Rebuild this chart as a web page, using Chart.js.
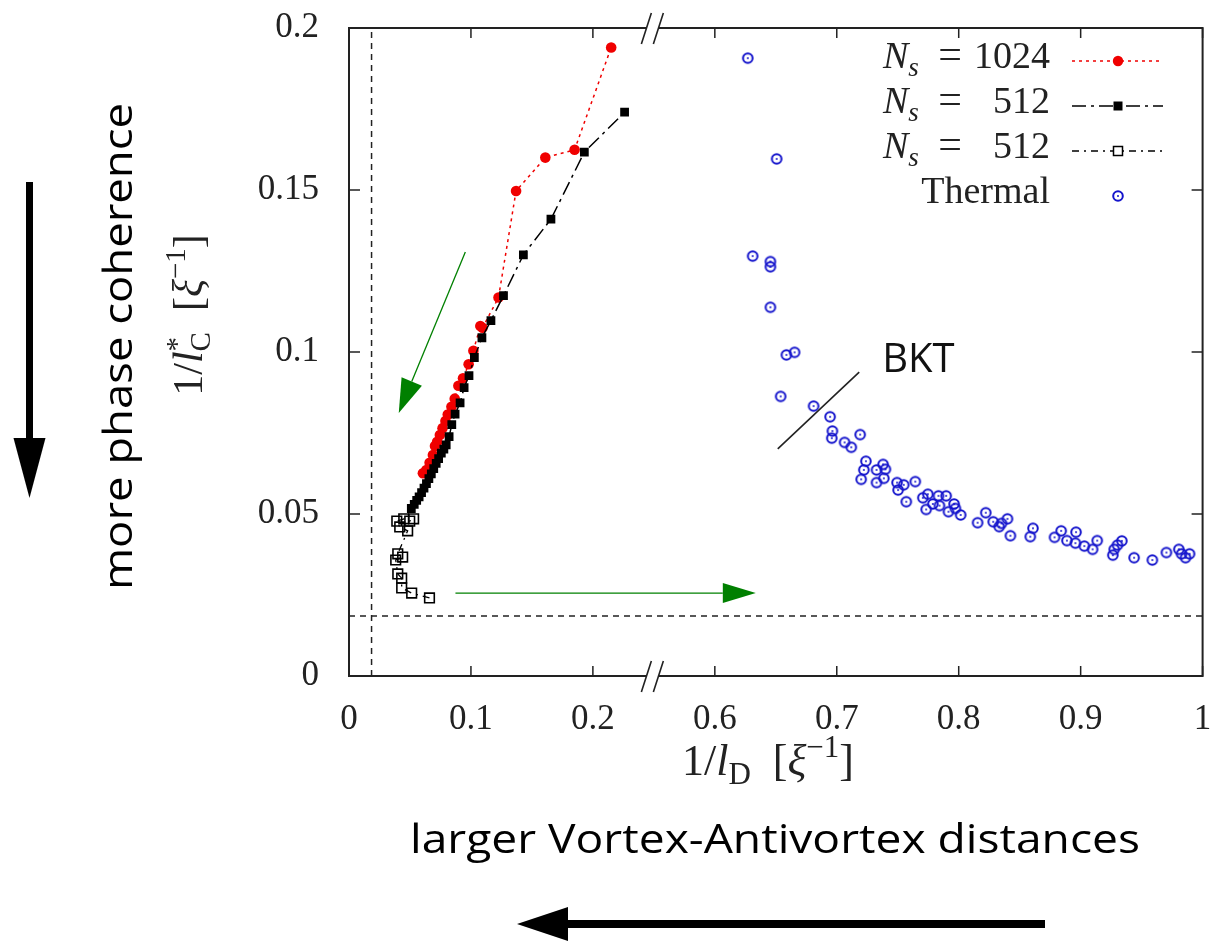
<!DOCTYPE html>
<html>
<head>
<meta charset="utf-8">
<script src="https://cdn.jsdelivr.net/npm/chart.js@4.4.1/dist/chart.umd.min.js"></script>
<style>
  html, body { margin: 0; padding: 0; background: #fff; overflow: hidden; }
  canvas { display: block; }
</style>
</head>
<body>
<canvas id="chart" width="1211" height="942"></canvas>
<script>
// values
const refLevel = 0.0185;

const n1024X = [0.0606, 0.0634, 0.0661, 0.0688, 0.0705, 0.0723, 0.0745, 0.0767, 0.0791, 0.0810, 0.0840, 0.0867,
  0.0897, 0.0935, 0.0981, 0.1020, 0.1077, 0.1095, 0.1226, 0.137, 0.161, 0.185, 0.215];
const n1024Y = [0.0626, 0.0636, 0.0658, 0.0682, 0.0710, 0.0723, 0.0744, 0.0765, 0.0787, 0.0807, 0.0831, 0.0856,
  0.0896, 0.0919, 0.0962, 0.1004, 0.1080, 0.1075, 0.1168, 0.1497, 0.160, 0.1624, 0.194];

const n512X = [0.0511, 0.0535, 0.0555, 0.0575, 0.0595, 0.0615, 0.0635, 0.0655, 0.0675, 0.0695, 0.0715, 0.0735,
  0.0757, 0.0778, 0.0797, 0.0821, 0.0843, 0.0870, 0.0911, 0.0944, 0.0984, 0.1028, 0.1090, 0.1164, 0.1267,
  0.143, 0.1656, 0.193, 0.226];
const n512Y = [0.0517, 0.0530, 0.0542, 0.0553, 0.0566, 0.0580, 0.0594, 0.0609, 0.0624, 0.0640, 0.0656, 0.0671,
  0.0688, 0.0700, 0.0713, 0.0739, 0.0776, 0.0808, 0.0843, 0.0890, 0.0927, 0.0983, 0.1044, 0.1097, 0.1174,
  0.130, 0.141, 0.1617, 0.174];

const n512bX = [0.066, 0.0514, 0.0432, 0.0432, 0.040, 0.0383, 0.044, 0.040, 0.0481, 0.0416, 0.0392, 0.0449, 0.0498, 0.053];
const n512bY = [0.0241, 0.0256, 0.0272, 0.0302, 0.0315, 0.0358, 0.0367, 0.0377, 0.0448, 0.0460, 0.0478, 0.0485, 0.0478, 0.0485];

const thermalX = [0.627, 0.6507, 0.631, 0.6456, 0.6456, 0.6456, 0.6587, 0.6654, 0.654, 0.681, 0.6945, 0.6964,
  0.6959, 0.7064, 0.7119, 0.7192, 0.7239, 0.7222, 0.7200, 0.7326, 0.7326, 0.738, 0.7399, 0.7386, 0.7494,
  0.7503, 0.7549, 0.757, 0.7644, 0.7706, 0.7747, 0.7733, 0.7788, 0.7834, 0.7842, 0.7897, 0.7916, 0.7962,
  0.7973, 0.8016, 0.8155, 0.8222, 0.8283, 0.8332, 0.8351, 0.8400, 0.8424, 0.8587, 0.8609, 0.8786, 0.8840,
  0.8887, 0.8957, 0.8962, 0.9030, 0.9098, 0.9136, 0.9264, 0.9275, 0.9302, 0.9338, 0.9438, 0.9588, 0.9703,
  0.9805, 0.9827, 0.9860, 0.9893];
const thermalY = [0.1907, 0.1596, 0.1296, 0.1279, 0.1263, 0.1138, 0.0991, 0.0999, 0.0863, 0.0833, 0.0800, 0.0756,
  0.0734, 0.0721, 0.0706, 0.0745, 0.0663, 0.0636, 0.0607, 0.0636, 0.0597, 0.0653, 0.0638, 0.0610, 0.0597,
  0.0574, 0.0590, 0.0538, 0.0600, 0.0550, 0.0561, 0.0514, 0.0531, 0.0556, 0.0526, 0.0556, 0.0507, 0.0531,
  0.0517, 0.0497, 0.0473, 0.0504, 0.0476, 0.0461, 0.0471, 0.0485, 0.0433, 0.0430, 0.0456, 0.0428, 0.0448,
  0.0418, 0.0410, 0.0444, 0.0401, 0.0391, 0.0418, 0.0373, 0.0391, 0.0404, 0.0417, 0.0365, 0.0358, 0.0381,
  0.0391, 0.0377, 0.0365, 0.0377];

const xTickValues = [0, 0.1, 0.2, 0.6, 0.7, 0.8, 0.9, 1];
const xTickLabels = ['0', '0.1', '0.2', '0.6', '0.7', '0.8', '0.9', '1'];
const yTickValues = [0, 0.05, 0.1, 0.15, 0.2];
const yTickLabels = ['0', '0.05', '0.1', '0.15', '0.2'];

const SERIF = '"Liberation Serif", "DejaVu Serif", serif';
const SANS = '"Open Sans", "Noto Sans", sans-serif';
const RED = '#f00000';
const BLUE = '#1414cc';
const GREEN = '#008000';
const INK = '#222';

// x axis is broken between 0.25 and 0.55 -> shift the right part by 0.3
function toAxis(x) { return x > 0.4 ? x - 0.3 : x; }
function pts(xs, ys) { return xs.map((x, i) => ({ x: toAxis(x), y: ys[i] })); }

// open circle with a dot, like gnuplot pt 6
const thermalImg = document.createElement('canvas');
thermalImg.width = 14; thermalImg.height = 14;
(function () {
  const c = thermalImg.getContext('2d');
  c.strokeStyle = BLUE; c.lineWidth = 2;
  c.beginPath(); c.arc(7, 7, 4.8, 0, Math.PI * 2); c.stroke();
  c.fillStyle = BLUE;
  c.beginPath(); c.arc(7, 7, 1, 0, Math.PI * 2); c.fill();
})();

function fontOf(p, size) {
  return (p.i ? 'italic ' : '') + Math.round(size * (p.s || 1)) + 'px ' + SERIF;
}
function richWidth(ctx, parts, size) {
  let w = 0;
  parts.forEach(p => { ctx.font = fontOf(p, size); if (!p.noAdv) w += ctx.measureText(p.t).width; });
  return w;
}
function drawRich(ctx, parts, x, y, size, align) {
  const w = richWidth(ctx, parts, size);
  let cx = align === 'center' ? x - w / 2 : align === 'right' ? x - w : x;
  ctx.textAlign = 'left';
  ctx.textBaseline = 'alphabetic';
  parts.forEach(p => {
    ctx.font = fontOf(p, size);
    ctx.fillText(p.t, cx, y + (p.dy || 0) * size);
    if (!p.noAdv) cx += ctx.measureText(p.t).width;
  });
}

function arrow(ctx, x0, y0, x1, y1, len, half, lw, color) {
  const a = Math.atan2(y1 - y0, x1 - x0);
  const bx = x1 - len * Math.cos(a), by = y1 - len * Math.sin(a);
  ctx.strokeStyle = color; ctx.fillStyle = color; ctx.lineWidth = lw; ctx.setLineDash([]);
  ctx.beginPath(); ctx.moveTo(x0, y0); ctx.lineTo(bx, by); ctx.stroke();
  ctx.beginPath();
  ctx.moveTo(x1, y1);
  ctx.lineTo(bx + half * Math.sin(a), by - half * Math.cos(a));
  ctx.lineTo(bx - half * Math.sin(a), by + half * Math.cos(a));
  ctx.closePath(); ctx.fill();
}

function marker(ctx, kind, x, y) {
  ctx.setLineDash([]);
  if (kind === 'circle') {
    ctx.fillStyle = RED; ctx.beginPath(); ctx.arc(x, y, 5.2, 0, Math.PI * 2); ctx.fill();
  } else if (kind === 'fsq') {
    ctx.fillStyle = '#000'; ctx.fillRect(x - 4.5, y - 4.5, 9, 9);
  } else if (kind === 'osq') {
    ctx.fillStyle = '#fff'; ctx.fillRect(x - 4.5, y - 4.5, 9, 9);
    ctx.strokeStyle = '#000'; ctx.lineWidth = 1.5; ctx.strokeRect(x - 4.5, y - 4.5, 9, 9);
  } else {
    ctx.drawImage(thermalImg, x - thermalImg.width / 2, y - thermalImg.height / 2);
  }
}

const decor = {
  id: 'decor',
  afterDraw(chart) {
    const ctx = chart.ctx;
    const a = chart.chartArea;
    const xs = chart.scales.x, ys = chart.scales.y;
    ctx.save();

    // frame
    ctx.strokeStyle = INK; ctx.lineWidth = 2; ctx.setLineDash([]);
    ctx.strokeRect(a.left, a.top, a.right - a.left, a.bottom - a.top);

    // inward ticks, mirrored
    ctx.lineWidth = 1.5;
    ctx.beginPath();
    xTickValues.forEach(v => {
      const px = xs.getPixelForValue(toAxis(v));
      ctx.moveTo(px, a.bottom); ctx.lineTo(px, a.bottom - 10);
      ctx.moveTo(px, a.top); ctx.lineTo(px, a.top + 10);
    });
    yTickValues.forEach(v => {
      const py = ys.getPixelForValue(v);
      ctx.moveTo(a.left, py); ctx.lineTo(a.left + 11, py);
      ctx.moveTo(a.right, py); ctx.lineTo(a.right - 11, py);
    });
    ctx.stroke();

    // axis break marks
    const xb = xs.getPixelForValue(0.25);
    [a.top, a.bottom].forEach(yy => {
      ctx.fillStyle = '#fff';
      ctx.fillRect(xb - 7, yy - 3, 12, 6);
      ctx.strokeStyle = INK; ctx.lineWidth = 1.6;
      ctx.beginPath();
      ctx.moveTo(xb - 12.5, yy + 16); ctx.lineTo(xb - 2.5, yy - 15);
      ctx.moveTo(xb - 0.5, yy + 16); ctx.lineTo(xb + 9.5, yy - 15);
      ctx.stroke();
    });

    // legend
    const LS = 38;
    const rows = [
      { num: '1024', kind: 'circle', color: RED, dash: [3, 4], y: 68 },
      { num: '512', kind: 'fsq', color: '#000', dash: [14, 5, 3, 5], y: 113 },
      { num: '512', kind: 'osq', color: '#000', dash: [7, 5, 2, 5], y: 158 },
      { label: 'Thermal', kind: 'img', y: 203 }
    ];
    rows.forEach(r => {
      ctx.fillStyle = INK;
      if (r.label) {
        drawRich(ctx, [{ t: r.label }], 1050, r.y, LS, 'right');
      } else {
        drawRich(ctx, [{ t: 'N', i: 1 }, { t: 's', i: 1, s: 0.7, dy: 0.22 }], 883, r.y, LS, 'left');
        drawRich(ctx, [{ t: '=' }], 950, r.y, LS + 4, 'center');
        drawRich(ctx, [{ t: r.num }], 1050, r.y, LS, 'right');
      }
      const ly = r.y - 7;
      if (r.dash) {
        ctx.strokeStyle = r.color; ctx.lineWidth = 1.5; ctx.setLineDash(r.dash);
        ctx.beginPath(); ctx.moveTo(1072, ly); ctx.lineTo(1163, ly); ctx.stroke();
      }
      marker(ctx, r.kind, 1118, ly);
    });

    // axis titles
    ctx.fillStyle = INK;
    drawRich(ctx, [{ t: '1/' }, { t: 'l', i: 1 }, { t: 'D', s: 0.7, dy: 0.2 }, { t: '  [' }, { t: 'ξ', i: 1 },
      { t: '−1', s: 0.7, dy: -0.4 }, { t: ']' }], 768, 775, 44, 'center');
    ctx.save();
    ctx.translate(202, 315);
    ctx.rotate(-Math.PI / 2);
    drawRich(ctx, [{ t: '1/' }, { t: 'l', i: 1 }, { t: '*', s: 0.7, dy: -0.38, noAdv: true }, { t: 'C', s: 0.7, dy: 0.2 },
      { t: '  [' }, { t: 'ξ', i: 1 }, { t: '−1', s: 0.7, dy: -0.4 }, { t: ']' }], 0, 0, 42, 'center');
    ctx.restore();

    // annotations inside the plot
    const P = (x, y) => [xs.getPixelForValue(toAxis(x)), ys.getPixelForValue(y)];
    let p0 = P(0.0954, 0.1309), p1 = P(0.0408, 0.0812);
    arrow(ctx, p0[0], p0[1], p1[0], p1[1], 34, 11, 1.3, GREEN);
    p0 = P(0.0873, 0.0256); p1 = P(0.6336, 0.0256);
    arrow(ctx, p0[0], p0[1], p1[0], p1[1], 33, 10, 1.3, GREEN);

    p0 = P(0.6516, 0.0701); p1 = P(0.7184, 0.0938);
    ctx.strokeStyle = INK; ctx.lineWidth = 1.6; ctx.setLineDash([]);
    ctx.beginPath(); ctx.moveTo(p0[0], p0[1]); ctx.lineTo(p1[0], p1[1]); ctx.stroke();
    const pt = P(0.7372, 0.0938);
    ctx.fillStyle = '#111';
    ctx.font = '40px ' + SANS; ctx.textAlign = 'left'; ctx.textBaseline = 'alphabetic';
    ctx.fillText('BKT', pt[0], pt[1]);

    // outside notes
    ctx.fillStyle = '#000';
    ctx.font = '40px ' + SANS;
    ctx.save();
    ctx.translate(132, 346.5);
    ctx.rotate(-Math.PI / 2);
    let w = ctx.measureText('more phase coherence').width;
    ctx.scale(487 / w, 1);
    ctx.textAlign = 'center';
    ctx.fillText('more phase coherence', 0, 0);
    ctx.restore();

    ctx.save();
    ctx.translate(775, 853);
    w = ctx.measureText('larger Vortex-Antivortex distances').width;
    ctx.scale(730 / w, 1);
    ctx.textAlign = 'center';
    ctx.fillText('larger Vortex-Antivortex distances', 0, 0);
    ctx.restore();

    // black arrows
    arrow(ctx, 29.5, 182, 29.5, 498, 60, 16, 7, '#000');
    arrow(ctx, 1045, 924, 517, 924, 51, 17, 8, '#000');

    ctx.restore();
  }
};

new Chart(document.getElementById('chart'), {
  type: 'scatter',
  data: {
    datasets: [
      {
        label: 'ref-h', data: pts([0, 1], [refLevel, refLevel]), showLine: true,
        borderColor: INK, borderWidth: 1.5, borderDash: [6, 5], pointRadius: 0, order: 5
      },
      {
        label: 'ref-v', data: pts([refLevel, refLevel], [0, 0.2]), showLine: true,
        borderColor: INK, borderWidth: 1.5, borderDash: [6, 5], pointRadius: 0, order: 5
      },
      {
        label: 'Ns = 512', data: pts(n512X, n512Y), showLine: true,
        borderColor: '#000', borderWidth: 1.5, borderDash: [14, 5, 3, 5],
        pointStyle: 'rect', pointRadius: 6.2, backgroundColor: '#000', pointBorderWidth: 0, order: 1
      },
      {
        label: 'Ns = 1024', data: pts(n1024X, n1024Y), showLine: true,
        borderColor: RED, borderWidth: 1.5, borderDash: [3, 4],
        pointStyle: 'circle', pointRadius: 5.3, backgroundColor: RED, pointBorderWidth: 0, order: 2
      },
      {
        label: 'Ns = 512 (open)', data: pts(n512bX, n512bY), showLine: true,
        borderColor: '#000', borderWidth: 1.3, borderDash: [7, 5, 2, 5],
        pointStyle: 'rect', pointRadius: 6.8, backgroundColor: 'rgba(0,0,0,0)', pointBorderColor: '#000',
        pointBorderWidth: 1.6, order: 3
      },
      {
        label: 'Thermal', data: pts(thermalX, thermalY), showLine: false,
        pointStyle: thermalImg, pointRadius: 5, order: 4
      }
    ]
  },
  options: {
    responsive: false,
    animation: false,
    devicePixelRatio: 1,
    layout: { padding: { top: 28, right: 3, left: 0, bottom: 0 } },
    plugins: { legend: { display: false }, tooltip: { enabled: false } },
    elements: { line: { tension: 0 } },
    scales: {
      x: {
        type: 'linear', min: 0, max: 0.7,
        grid: { display: false }, border: { display: false },
        afterBuildTicks: s => { s.ticks = xTickValues.map(v => ({ value: toAxis(v) })); },
        afterFit: s => { s.height = 266; s.paddingLeft = 0; s.paddingRight = 0; },
        ticks: {
          autoSkip: false, maxRotation: 0, padding: 15, color: INK,
          font: { family: SERIF, size: 35 },
          callback: (v, i) => xTickLabels[i]
        }
      },
      y: {
        type: 'linear', min: 0, max: 0.2,
        grid: { display: false }, border: { display: false },
        afterBuildTicks: s => { s.ticks = yTickValues.map(v => ({ value: v })); },
        afterFit: s => { s.width = 349; s.paddingTop = 0; s.paddingBottom = 0; },
        ticks: {
          autoSkip: false, padding: 22, color: INK,
          font: { family: SERIF, size: 35 },
          callback: (v, i) => yTickLabels[i]
        }
      }
    }
  },
  plugins: [decor]
});
</script>
</body>
</html>
